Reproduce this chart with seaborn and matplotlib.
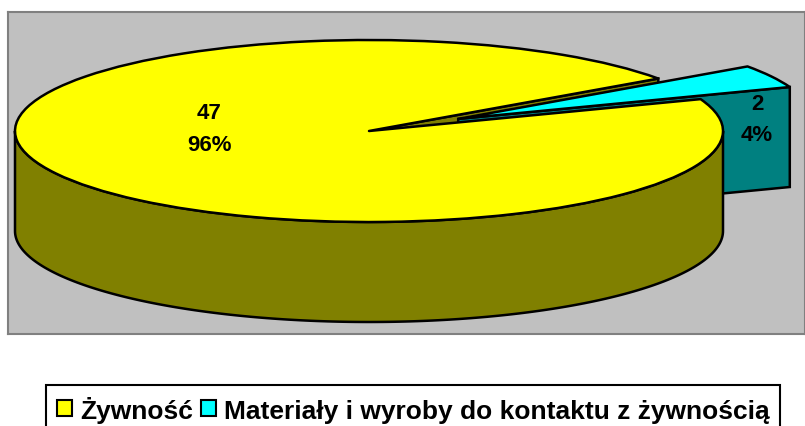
import numpy as np
import seaborn as sns
import matplotlib.pyplot as plt

# data
categories = ['Żywność', 'Materiały i wyroby do kontaktu z żywnością']
counts = [47, 2]
colors_top = ['#FFFF00', '#00FFFF']
colors_side = ['#808000', '#008080']

sns.set_theme(style='white')
plt.rcParams['font.family'] = ['Liberation Sans', 'DejaVu Sans']

W, H = 805, 427
fig = plt.figure(figsize=(W / 100, H / 100), dpi=100, facecolor='white')

# grey panel, in pixels of the picture
left, top, bottom = 8, 13, 335
ax = fig.add_axes([left / W, 1 - bottom / H, (W - left) / W, (bottom - top) / H])

# the pie is squashed, one data unit is rx pixels across and ry pixels up
cx, cy, rx, ry, depth_px = 369, 132, 354, 91, 100
depth = depth_px / ry
edge = dict(edgecolor='black', linewidth=1.8, joinstyle='round')

slice_deg = 360 * counts[1] / sum(counts)
gap_start = 20.5
wedges, _ = ax.pie(counts, startangle=gap_start + slice_deg, explode=[0, 0.285],
                   colors=colors_top, wedgeprops=edge)
food, contact = wedges
food.set_zorder(6)
contact.set_zorder(4)

ax.set_aspect('auto')
ax.set_xlim((left - cx) / rx, (W - cx) / rx)
ax.set_ylim((cy - bottom) / ry, (cy - top) / ry)

# cut face of the food slice, seen through the gap
a = np.radians(contact.theta2)
xs = np.array([0, np.cos(a), np.cos(a), 0])
ys = np.array([0, np.sin(a), np.sin(a) - depth, -depth])
ax.fill(xs, ys, color=colors_side[0], ec='black', lw=1.8, zorder=2)

# cut face of the pulled out slice
a = np.radians(contact.theta1)
ox, oy = contact.center
xs = ox + np.array([0, np.cos(a), np.cos(a), 0])
ys = oy + np.array([0, np.sin(a), np.sin(a) - depth, -depth])
ax.fill(xs, ys, color=colors_side[1], ec='black', lw=1.8, zorder=3)

# outer wall at the front
t = np.radians(np.linspace(180, 360, 200))
xs = np.r_[np.cos(t), np.cos(t)[::-1]]
ys = np.r_[np.sin(t), np.sin(t)[::-1] - depth]
ax.fill(xs, ys, color=colors_side[0], ec='black', lw=1.8, zorder=5)

# data labels
shares = [round(100 * c / sum(counts)) for c in counts]
label_px = [(209, 129.5), (757, 120)]
for c, s, (px, py) in zip(counts, shares, label_px):
    ax.text((px - cx) / rx, (cy - py) / ry, f'{c}\n{s}%', ha='center', va='center',
            fontsize=16, fontweight='bold', color='black', linespacing=1.65, zorder=8)

ax.set_xticks([])
ax.set_yticks([])
ax.set_facecolor('#C0C0C0')
ax.set_frame_on(True)
for sp in ax.spines.values():
    sp.set_color('#808080')
    sp.set_linewidth(1.5)

# legend, its box runs off the bottom of the picture
leg = fig.legend(wedges, categories, ncol=2, loc='upper left',
                 bbox_to_anchor=(46 / W, 1 - 386 / H), borderaxespad=0,
                 prop=dict(weight='bold', size=19), labelcolor='black',
                 fancybox=False, framealpha=1, edgecolor='black',
                 handlelength=0.58, handleheight=0.58,
                 handletextpad=0.3, columnspacing=0.3, borderpad=0.4)
leg.get_frame().set_linewidth(1.5)
for h in leg.legend_handles:
    h.set_linewidth(1.5)

fig.savefig('out.png', dpi=100)
